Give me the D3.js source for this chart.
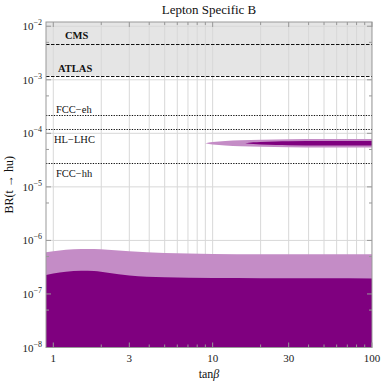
<!DOCTYPE html>
<html>
<head>
<meta charset="utf-8">
<script src="https://cdn.jsdelivr.net/npm/d3@7"></script>
<style>
  body { margin: 0; background: #fff; }
  text { font-family: "Liberation Serif", "DejaVu Serif", serif; }
</style>
</head>
<body>
<script>
let w = 382;
let h = 383;
let margin = { top: 22, right: 10, bottom: 35.5, left: 46 };

// x range and ticks
let xDomain = [0.9, 100];
let yDomain = [1e-8, 1.2e-2];
let xTickLabels = [1, 3, 10, 30, 100];
let xMinor = [1, 2, 3, 4, 5, 6, 7, 8, 9, 10, 20, 30, 40, 50, 60, 70, 80, 90, 100];
let yMajor = [-8, -7, -6, -5, -4, -3, -2];

// lower band (full scan)
let tanb = [0.9, 1, 1.2, 1.5, 1.8, 2.2, 3, 5, 10, 20, 50, 100];
let lightTop = [6.0e-7, 6.3e-7, 6.7e-7, 6.9e-7, 6.9e-7, 6.7e-7, 6.3e-7, 5.8e-7, 5.6e-7, 5.5e-7, 5.5e-7, 5.5e-7];
let darkTop = [2.26e-7, 2.4e-7, 2.6e-7, 2.7e-7, 2.68e-7, 2.5e-7, 2.22e-7, 2.05e-7, 1.98e-7, 1.97e-7, 1.96e-7, 1.95e-7];

// upper sliver
let sliverX = [9, 10, 12, 15, 20, 30, 50, 100];
let sliverHi = [6.55e-5, 6.9e-5, 7.2e-5, 7.45e-5, 7.6e-5, 7.75e-5, 7.8e-5, 7.8e-5];
let sliverLo = [6.55e-5, 6.2e-5, 5.95e-5, 5.75e-5, 5.6e-5, 5.5e-5, 5.45e-5, 5.45e-5];
let coreX = [16, 18, 20, 25, 30, 50, 100];
let coreHi = [6.55e-5, 6.8e-5, 6.9e-5, 7.05e-5, 7.1e-5, 7.2e-5, 7.2e-5];
let coreLo = [6.55e-5, 6.3e-5, 6.2e-5, 6.05e-5, 6.0e-5, 5.9e-5, 5.9e-5];

// experimental limits
let limitNames = ["CMS", "ATLAS", "FCC\u2212eh", "HL\u2212LHC", "FCC\u2212hh"];
let limitValues = [4.7e-3, 1.19e-3, 2.2e-4, 1.2e-4, 2.77e-5];
let limitStyle = ["dash", "dash", "dot", "dot", "dot"];
let limitBold = [true, true, false, false, false];
let limitLabelY = [39, 72, 113, 143, 177];

let svg = d3.select("body").append("svg").attr("width", w).attr("height", h);

let x = d3.scaleLog().domain(xDomain).range([margin.left, w - margin.right]);
let y = d3.scaleLog().domain(yDomain).range([h - margin.bottom, margin.top]);
let x0 = margin.left, x1 = w - margin.right, y0 = h - margin.bottom, y1 = margin.top;

let clip = svg.append("clipPath").attr("id", "plotclip")
  .append("rect").attr("x", x0).attr("y", y1).attr("width", x1 - x0).attr("height", y0 - y1);

let plot = svg.append("g").attr("clip-path", "url(#plotclip)");

// excluded band above ATLAS
plot.append("rect")
  .attr("x", x0).attr("y", y1)
  .attr("width", x1 - x0).attr("height", y(limitValues[1]) - y1)
  .attr("fill", "#e5e5e5");

// grid
plot.selectAll("line.vgrid").data(xMinor).enter().append("line")
  .attr("x1", d => x(d)).attr("x2", d => x(d))
  .attr("y1", y0).attr("y2", y1)
  .attr("stroke", "#d8d8d8").attr("stroke-width", 1);
plot.selectAll("line.hgrid").data(yMajor).enter().append("line")
  .attr("y1", d => y(Math.pow(10, d))).attr("y2", d => y(Math.pow(10, d)))
  .attr("x1", x0).attr("x2", x1)
  .attr("stroke", "#d8d8d8").attr("stroke-width", 1);

// regions
let areaLow = d3.area().x((d, i) => x(tanb[i])).y0(y0 + 2).y1(d => y(d)).curve(d3.curveMonotoneX);
plot.append("path").attr("d", areaLow(lightTop)).attr("fill", "#c48cc6");
plot.append("path").attr("d", areaLow(darkTop)).attr("fill", "#7f007f");

let sliverArea = d3.area().curve(d3.curveMonotoneX);
plot.append("path")
  .attr("d", sliverArea.x((d, i) => x(sliverX[i])).y0((d, i) => y(sliverLo[i])).y1(d => y(d))(sliverHi))
  .attr("fill", "#c48cc6");
plot.append("path")
  .attr("d", sliverArea.x((d, i) => x(coreX[i])).y0((d, i) => y(coreLo[i])).y1(d => y(d))(coreHi))
  .attr("fill", "#7f007f");

// limit lines
limitValues.forEach((v, i) => {
  plot.append("line")
    .attr("x1", x0).attr("x2", x1)
    .attr("y1", Math.round(y(v)) + 0.5).attr("y2", Math.round(y(v)) + 0.5)
    .attr("stroke", "#111").attr("stroke-width", 1.1)
    .attr("stroke-dasharray", limitStyle[i] == "dash" ? "3.5,1.5" : "1.3,1.3");
  svg.append("text")
    .attr("x", limitBold[i] ? (i == 0 ? 65 : 58) : (i == 3 ? 54 : 56))
    .attr("y", limitLabelY[i])
    .attr("font-size", 10.5)
    .attr("font-weight", limitBold[i] ? "bold" : "normal")
    .attr("fill", "#111")
    .text(limitNames[i]);
});

// frame
svg.append("rect")
  .attr("x", x0).attr("y", y1).attr("width", x1 - x0).attr("height", y0 - y1)
  .attr("fill", "none").attr("stroke", "#999").attr("stroke-width", 1);

// x ticks, top and bottom
xMinor.forEach(d => {
  let len = xTickLabels.includes(d) ? 5 : 3;
  svg.append("line").attr("x1", x(d)).attr("x2", x(d)).attr("y1", y0).attr("y2", y0 - len).attr("stroke", "#999");
  svg.append("line").attr("x1", x(d)).attr("x2", x(d)).attr("y1", y1).attr("y2", y1 + len).attr("stroke", "#999");
});
svg.selectAll("text.xt").data(xTickLabels).enter().append("text")
  .attr("x", d => x(d)).attr("y", 362)
  .attr("text-anchor", "middle").attr("font-size", 11).attr("fill", "#222")
  .text(d => d);

// y ticks, left and right
yMajor.forEach(e => {
  let yy = y(Math.pow(10, e));
  svg.append("line").attr("x1", x0).attr("x2", x0 + 5).attr("y1", yy).attr("y2", yy).attr("stroke", "#999");
  svg.append("line").attr("x1", x1).attr("x2", x1 - 5).attr("y1", yy).attr("y2", yy).attr("stroke", "#999");
  if (e > -8) {
    let ym = y(5 * Math.pow(10, e - 1));
    svg.append("line").attr("x1", x0).attr("x2", x0 + 3).attr("y1", ym).attr("y2", ym).attr("stroke", "#999");
    svg.append("line").attr("x1", x1).attr("x2", x1 - 3).attr("y1", ym).attr("y2", ym).attr("stroke", "#999");
  }
  let t = svg.append("text")
    .attr("x", 42).attr("y", yy + 4)
    .attr("text-anchor", "end").attr("font-size", 11).attr("fill", "#222");
  t.append("tspan").text("10");
  t.append("tspan").attr("dy", -5).attr("font-size", 8).text("\u2212" + (-e));
});

// titles
svg.append("text")
  .attr("x", (x0 + x1) / 2).attr("y", 14)
  .attr("text-anchor", "middle").attr("font-size", 13).attr("fill", "#111")
  .text("Lepton Specific B");

let xl = svg.append("text")
  .attr("x", (x0 + x1) / 2).attr("y", 378)
  .attr("text-anchor", "middle").attr("font-size", 12).attr("fill", "#111");
xl.append("tspan").text("tan");
xl.append("tspan").attr("font-style", "italic").text("\u03b2");

svg.append("text")
  .attr("transform", "translate(13," + ((y0 + y1) / 2) + ") rotate(-90)")
  .attr("text-anchor", "middle").attr("font-size", 12).attr("fill", "#111")
  .text("BR(t \u2192 hu)");
</script>
</body>
</html>
